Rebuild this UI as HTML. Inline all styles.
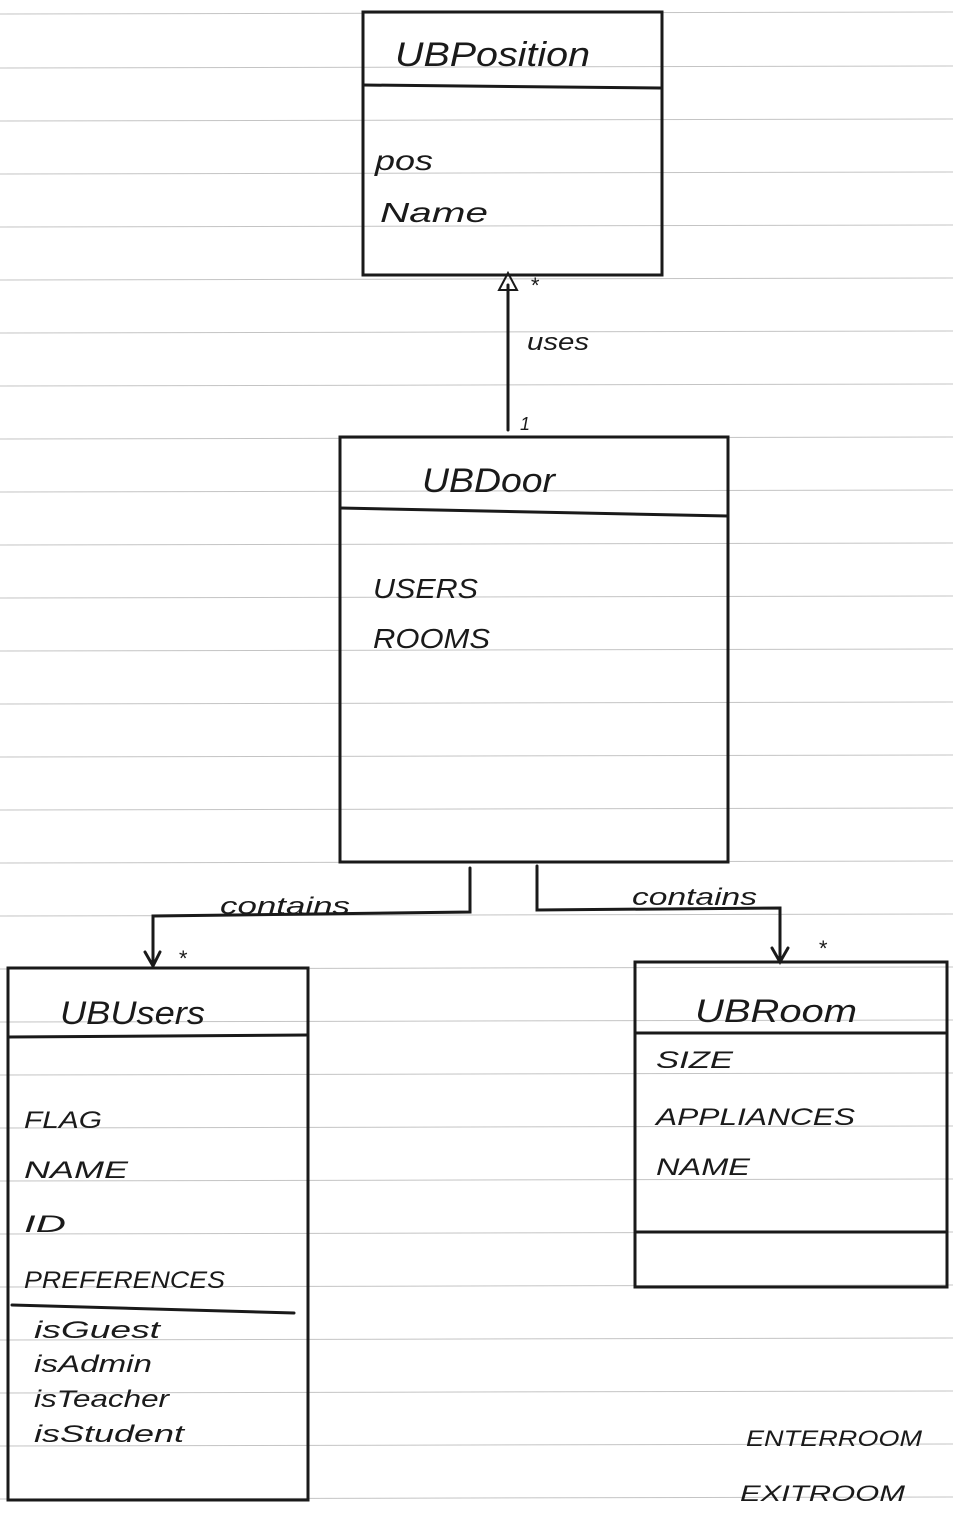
<!DOCTYPE html>
<html><head><meta charset="utf-8"><style>
html,body{margin:0;padding:0;background:#fff}
svg{display:block}
text{font-family:"Liberation Sans",sans-serif;font-style:italic;fill:#1a1a1a}
</style></head><body>
<svg width="953" height="1513" viewBox="0 0 953 1513" xmlns="http://www.w3.org/2000/svg">
<g stroke="#c4c4c4" stroke-width="1">
<line x1="0" y1="14" x2="953" y2="12"/><line x1="0" y1="68" x2="953" y2="66"/><line x1="0" y1="121" x2="953" y2="119"/><line x1="0" y1="174" x2="953" y2="172"/><line x1="0" y1="227" x2="953" y2="225"/><line x1="0" y1="280" x2="953" y2="278"/><line x1="0" y1="333" x2="953" y2="331"/><line x1="0" y1="386" x2="953" y2="384"/><line x1="0" y1="439" x2="953" y2="437"/><line x1="0" y1="492" x2="953" y2="490"/><line x1="0" y1="545" x2="953" y2="543"/><line x1="0" y1="598" x2="953" y2="596"/><line x1="0" y1="651" x2="953" y2="649"/><line x1="0" y1="704" x2="953" y2="702"/><line x1="0" y1="757" x2="953" y2="755"/><line x1="0" y1="810" x2="953" y2="808"/><line x1="0" y1="863" x2="953" y2="861"/><line x1="0" y1="916" x2="953" y2="914"/><line x1="0" y1="969" x2="953" y2="967"/><line x1="0" y1="1022" x2="953" y2="1020"/><line x1="0" y1="1075" x2="953" y2="1073"/><line x1="0" y1="1128" x2="953" y2="1126"/><line x1="0" y1="1181" x2="953" y2="1179"/><line x1="0" y1="1234" x2="953" y2="1232"/><line x1="0" y1="1287" x2="953" y2="1285"/><line x1="0" y1="1340" x2="953" y2="1338"/><line x1="0" y1="1393" x2="953" y2="1391"/><line x1="0" y1="1446" x2="953" y2="1444"/><line x1="0" y1="1499" x2="953" y2="1497"/>
</g>
<g stroke="#1a1a1a" stroke-width="3" fill="none" stroke-linecap="round">
<rect x="363" y="12" width="299" height="263"/><line x1="363" y1="85" x2="660" y2="88"/>
<line x1="508" y1="285" x2="508" y2="430"/>
<polygon points="508,273 499,290 517,290" stroke-width="2"/>
<rect x="340" y="437" width="388" height="425"/><line x1="340" y1="508" x2="728" y2="516"/>
<polyline points="470,868 470,912 153,916 153,966"/>
<polyline points="145,952 153,966 160,952"/>
<polyline points="537,866 537,910 780,908 780,962"/>
<polyline points="772,948 780,962 788,948"/>
<rect x="8" y="968" width="300" height="532"/><line x1="8" y1="1037" x2="308" y2="1035"/><line x1="12" y1="1305" x2="294" y2="1313"/>
<rect x="635" y="962" width="312" height="325"/><line x1="635" y1="1033" x2="945" y2="1033"/><line x1="635" y1="1232" x2="945" y2="1232"/>
</g>
<text x="395" y="66" font-size="34" textLength="195" lengthAdjust="spacingAndGlyphs">UBPosition</text>
<text x="375" y="170" font-size="28" textLength="58" lengthAdjust="spacingAndGlyphs">pos</text>
<text x="380" y="222" font-size="28" textLength="108" lengthAdjust="spacingAndGlyphs">Name</text>
<text x="530" y="293" font-size="22">*</text>
<text x="527" y="350" font-size="24" textLength="62" lengthAdjust="spacingAndGlyphs">uses</text>
<text x="520" y="430" font-size="18">1</text>
<text x="422" y="492" font-size="34" textLength="133" lengthAdjust="spacingAndGlyphs">UBDoor</text>
<text x="373" y="598" font-size="28" textLength="105" lengthAdjust="spacingAndGlyphs">USERS</text>
<text x="373" y="648" font-size="28" textLength="117" lengthAdjust="spacingAndGlyphs">ROOMS</text>
<text x="220" y="914" font-size="24" textLength="130" lengthAdjust="spacingAndGlyphs">contains</text>
<text x="632" y="905" font-size="24" textLength="125" lengthAdjust="spacingAndGlyphs">contains</text>
<text x="178" y="966" font-size="22">*</text>
<text x="818" y="956" font-size="22">*</text>
<text x="60" y="1024" font-size="32" textLength="145" lengthAdjust="spacingAndGlyphs">UBUsers</text>
<text x="24" y="1128" font-size="24" textLength="78" lengthAdjust="spacingAndGlyphs">FLAG</text>
<text x="24" y="1178" font-size="24" textLength="104" lengthAdjust="spacingAndGlyphs">NAME</text>
<text x="24" y="1232" font-size="24" textLength="42" lengthAdjust="spacingAndGlyphs">ID</text>
<text x="24" y="1288" font-size="24" textLength="201" lengthAdjust="spacingAndGlyphs">PREFERENCES</text>
<text x="34" y="1338" font-size="24" textLength="126" lengthAdjust="spacingAndGlyphs">isGuest</text>
<text x="34" y="1372" font-size="24" textLength="118" lengthAdjust="spacingAndGlyphs">isAdmin</text>
<text x="34" y="1407" font-size="24" textLength="135" lengthAdjust="spacingAndGlyphs">isTeacher</text>
<text x="34" y="1442" font-size="24" textLength="150" lengthAdjust="spacingAndGlyphs">isStudent</text>
<text x="695" y="1022" font-size="32" textLength="162" lengthAdjust="spacingAndGlyphs">UBRoom</text>
<text x="656" y="1068" font-size="24" textLength="77" lengthAdjust="spacingAndGlyphs">SIZE</text>
<text x="656" y="1125" font-size="24" textLength="199" lengthAdjust="spacingAndGlyphs">APPLIANCES</text>
<text x="656" y="1175" font-size="24" textLength="94" lengthAdjust="spacingAndGlyphs">NAME</text>
<text x="746" y="1446" font-size="22" textLength="176" lengthAdjust="spacingAndGlyphs">ENTERROOM</text>
<text x="740" y="1501" font-size="22" textLength="165" lengthAdjust="spacingAndGlyphs">EXITROOM</text>
</svg>
</body></html>
